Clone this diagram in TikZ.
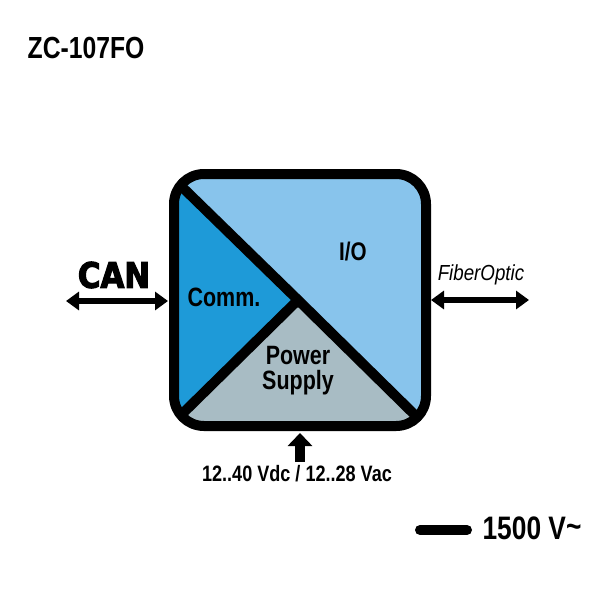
\documentclass[tikz,border=0pt]{standalone}
\usepackage{fontspec}
\setmainfont{Liberation Sans}
\newfontfamily\cond[FakeStretch=0.81]{Liberation Sans Bold}
\newfontfamily\condit[FakeStretch=0.86]{Liberation Sans Italic}
\newfontfamily\canfont[FakeBold=3.2,FakeStretch=0.88]{DejaVu Sans Bold}
\usetikzlibrary{arrows.meta}
\definecolor{ioblue}{HTML}{88C4EC}
\definecolor{commblue}{HTML}{1E9AD8}
\definecolor{psgrey}{HTML}{A8BCC4}
\tikzset{
  txt/.style={font=\cond, text=black, inner sep=0pt, align=center},
  wall/.style={line width=10pt, line cap=butt, draw=black},
  dbl/.style={line width=5.5pt, draw=black, {Triangle[length=13pt,width=18pt]}-{Triangle[length=13pt,width=18pt]}},
  up/.style={line width=10.5pt, draw=black, -{Triangle[length=13pt,width=24pt]}}
}
\begin{document}
\begin{tikzpicture}[x=1pt,y=-1pt]
\useasboundingbox (0,0) rectangle (600,600);
% named points of the block
\coordinate (c) at (298,300);
\coordinate (tl) at (178,183);
\coordinate (bl) at (178,418);
\coordinate (br) at (421,421);
\coordinate (wl) at (168,301);
\coordinate (wr) at (431,300);
\begin{scope}
  \clip[rounded corners=30pt] (174,174) rectangle (426,426);
  \fill[ioblue] (174,174) rectangle (426,426);
  \fill[commblue] (tl) -- (c) -- (bl) -- (165,430) -- (165,170) -- cycle;
  \fill[psgrey] (c) -- (br) -- (430,430) -- (170,430) -- (bl) -- cycle;
  \draw[wall] (tl) -- (c) -- (br);
  \draw[wall] (c) -- (bl);
\end{scope}
\node[draw=black, line width=10pt, rounded corners=30pt, minimum width=252pt, minimum height=252pt, inner sep=0pt, outer sep=0pt] (block) at (300,300) {};
\node[txt, font=\cond\fontsize{30.5}{30.5}\selectfont] (title) at (86,48) {ZC-107FO};
\node[txt, font=\cond\fontsize{25.5}{25.5}\selectfont] (io) at (353,252) {I/O};
\node[txt, font=\cond\fontsize{26.5}{26.5}\selectfont] (comm) at (224,297) {Comm.};
\node[txt, font=\cond\fontsize{26.5}{25}\selectfont] (ps) at (298,371) {Power\\Supply};
\node[txt, font=\canfont\fontsize{35}{35}\selectfont] (can) at (114,275) {CAN};
\node[txt, font=\condit\fontsize{21.8}{21.8}\selectfont] (fo) at (481,275) {FiberOptic};
\node[txt, font=\cond\fontsize{22.3}{22.3}\selectfont] (vin) at (297,474) {12..40 Vdc / 12..28 Vac};
\node[txt, font=\cond\fontsize{32.5}{32.5}\selectfont] (iso) at (532,528) {1500 V\raisebox{2pt}{\textasciitilde}};
\coordinate (canl) at (66,301);
\coordinate (for) at (529,300);
\coordinate (pwb) at (300,462);
\coordinate (pwt) at (300,433);
\coordinate (isol) at (420,530);
\coordinate (isor) at (467,530);
\draw[dbl] (canl) -- (wl);
\draw[dbl] (wr) -- (for);
\draw[up] (pwb) -- (pwt);
\draw[line width=10pt, line cap=round] (isol) -- (isor);
\end{tikzpicture}
\end{document}
